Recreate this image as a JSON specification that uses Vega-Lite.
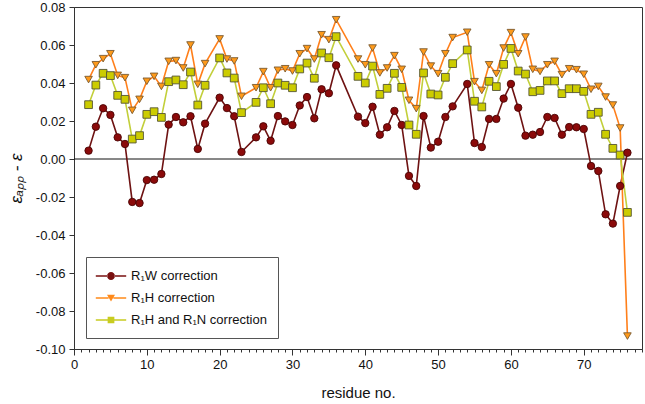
{
  "$schema": "https://vega.github.io/schema/vega-lite/v6.json",
  "width": 568,
  "height": 342,
  "autosize": "none",
  "padding": {"left": 74, "top": 7, "right": 3, "bottom": 55},
  "background": "white",
  "config": {
    "font": "Liberation Sans",
    "view": {"stroke": "#333333", "strokeWidth": 1},
    "axis": {"grid": false, "domainColor": "#333333", "tickColor": "#333333", "labelColor": "#111111", "titleColor": "#111111", "labelFontSize": 13, "titleFontWeight": "normal", "labelOverlap": false, "labelFlush": false, "labelBound": false}
  },
  "data": {
    "values": [
      {"res": 2, "R1W": 0.0044, "R1H": 0.0418, "R1HN": 0.0286},
      {"res": 3, "R1W": 0.0170, "R1H": 0.0496, "R1HN": 0.0389},
      {"res": 4, "R1W": 0.0267, "R1H": 0.0528, "R1HN": 0.0451},
      {"res": 5, "R1W": 0.0232, "R1H": 0.0554, "R1HN": 0.0439},
      {"res": 6, "R1W": 0.0114, "R1H": 0.0440, "R1HN": 0.0335},
      {"res": 7, "R1W": 0.0079, "R1H": 0.0428, "R1HN": 0.0314},
      {"res": 8, "R1W": -0.0226, "R1H": 0.0256, "R1HN": 0.0105},
      {"res": 9, "R1W": -0.0232, "R1H": 0.0314, "R1HN": 0.0123},
      {"res": 10, "R1W": -0.0111, "R1H": 0.0409, "R1HN": 0.0235},
      {"res": 11, "R1W": -0.0109, "R1H": 0.0435, "R1HN": 0.0249},
      {"res": 12, "R1W": -0.0079, "R1H": 0.0382, "R1HN": 0.0219},
      {"res": 13, "R1W": 0.0181, "R1H": 0.0514, "R1HN": 0.0407},
      {"res": 14, "R1W": 0.0221, "R1H": 0.0518, "R1HN": 0.0416},
      {"res": 15, "R1W": 0.0193, "R1H": 0.0479, "R1HN": 0.0391},
      {"res": 16, "R1W": 0.0225, "R1H": 0.0600, "R1HN": 0.0458},
      {"res": 17, "R1W": 0.0053, "R1H": 0.0393, "R1HN": 0.0284},
      {"res": 18, "R1W": 0.0186, "R1H": 0.0502, "R1HN": 0.0388},
      {"res": 20, "R1W": 0.0323, "R1H": 0.0632, "R1HN": 0.0532},
      {"res": 21, "R1W": 0.0268, "R1H": 0.0526, "R1HN": 0.0453},
      {"res": 22, "R1W": 0.0225, "R1H": 0.0516, "R1HN": 0.0426},
      {"res": 23, "R1W": 0.0037, "R1H": 0.0330, "R1HN": 0.0244},
      {"res": 25, "R1W": 0.0114, "R1H": 0.0375, "R1HN": 0.0298},
      {"res": 26, "R1W": 0.0172, "R1H": 0.0460, "R1HN": 0.0375},
      {"res": 27, "R1W": 0.0096, "R1H": 0.0375, "R1HN": 0.0291},
      {"res": 28, "R1W": 0.0226, "R1H": 0.0467, "R1HN": 0.0400},
      {"res": 29, "R1W": 0.0198, "R1H": 0.0475, "R1HN": 0.0388},
      {"res": 30, "R1W": 0.0179, "R1H": 0.0463, "R1HN": 0.0375},
      {"res": 31, "R1W": 0.0282, "R1H": 0.0554, "R1HN": 0.0474},
      {"res": 32, "R1W": 0.0326, "R1H": 0.0581, "R1HN": 0.0505},
      {"res": 33, "R1W": 0.0214, "R1H": 0.0526, "R1HN": 0.0425},
      {"res": 34, "R1W": 0.0367, "R1H": 0.0654, "R1HN": 0.0558},
      {"res": 35, "R1W": 0.0346, "R1H": 0.0628, "R1HN": 0.0533},
      {"res": 36, "R1W": 0.0493, "R1H": 0.0733, "R1HN": 0.0644},
      {"res": 39, "R1W": 0.0223, "R1H": 0.0526, "R1HN": 0.0435},
      {"res": 40, "R1W": 0.0189, "R1H": 0.0496, "R1HN": 0.0400},
      {"res": 41, "R1W": 0.0275, "R1H": 0.0584, "R1HN": 0.0489},
      {"res": 42, "R1W": 0.0128, "R1H": 0.0453, "R1HN": 0.0340},
      {"res": 43, "R1W": 0.0167, "R1H": 0.0479, "R1HN": 0.0372},
      {"res": 44, "R1W": 0.0253, "R1H": 0.0544, "R1HN": 0.0451},
      {"res": 45, "R1W": 0.0179, "R1H": 0.0472, "R1HN": 0.0377},
      {"res": 46, "R1W": -0.0089, "R1H": 0.0309, "R1HN": 0.0179},
      {"res": 47, "R1W": -0.0142, "R1H": 0.0265, "R1HN": 0.0130},
      {"res": 48, "R1W": 0.0226, "R1H": 0.0563, "R1HN": 0.0453},
      {"res": 49, "R1W": 0.0060, "R1H": 0.0489, "R1HN": 0.0342},
      {"res": 50, "R1W": 0.0091, "R1H": 0.0449, "R1HN": 0.0337},
      {"res": 51, "R1W": 0.0221, "R1H": 0.0554, "R1HN": 0.0430},
      {"res": 52, "R1W": 0.0277, "R1H": 0.0639, "R1HN": 0.0502},
      {"res": 54, "R1W": 0.0395, "R1H": 0.0667, "R1HN": 0.0574},
      {"res": 55, "R1W": 0.0084, "R1H": 0.0407, "R1HN": 0.0304},
      {"res": 56, "R1W": 0.0063, "R1H": 0.0361, "R1HN": 0.0274},
      {"res": 57, "R1W": 0.0211, "R1H": 0.0496, "R1HN": 0.0409},
      {"res": 58, "R1W": 0.0211, "R1H": 0.0449, "R1HN": 0.0381},
      {"res": 59, "R1W": 0.0318, "R1H": 0.0584, "R1HN": 0.0498},
      {"res": 60, "R1W": 0.0395, "R1H": 0.0665, "R1HN": 0.0582},
      {"res": 61, "R1W": 0.0270, "R1H": 0.0554, "R1HN": 0.0463},
      {"res": 62, "R1W": 0.0123, "R1H": 0.0642, "R1HN": 0.0447},
      {"res": 63, "R1W": 0.0128, "R1H": 0.0472, "R1HN": 0.0354},
      {"res": 64, "R1W": 0.0142, "R1H": 0.0461, "R1HN": 0.0361},
      {"res": 65, "R1W": 0.0221, "R1H": 0.0496, "R1HN": 0.0411},
      {"res": 66, "R1W": 0.0216, "R1H": 0.0514, "R1HN": 0.0411},
      {"res": 67, "R1W": 0.0128, "R1H": 0.0444, "R1HN": 0.0344},
      {"res": 68, "R1W": 0.0168, "R1H": 0.0475, "R1HN": 0.0370},
      {"res": 69, "R1W": 0.0167, "R1H": 0.0470, "R1HN": 0.0370},
      {"res": 70, "R1W": 0.0158, "R1H": 0.0446, "R1HN": 0.0356},
      {"res": 71, "R1W": -0.0037, "R1H": 0.0367, "R1HN": 0.0235},
      {"res": 72, "R1W": -0.0063, "R1H": 0.0382, "R1HN": 0.0246},
      {"res": 73, "R1W": -0.0291, "R1H": 0.0326, "R1HN": 0.0130},
      {"res": 74, "R1W": -0.0340, "R1H": 0.0284, "R1HN": 0.0056},
      {"res": 75, "R1W": -0.0142, "R1H": 0.0163, "R1HN": 0.0021},
      {"res": 76, "R1W": 0.0033, "R1H": -0.0932, "R1HN": -0.0281}
    ]
  },
  "resolve": {"scale": {"shape": "independent", "fill": "independent"}, "legend": {"shape": "independent", "fill": "independent"}},
  "layer": [
    {
      "data": {"values": [{}]},
      "mark": {"type": "rule", "color": "#111111", "strokeWidth": 1},
      "encoding": {
        "y": {
          "datum": 0, "type": "quantitative",
          "scale": {"domain": [-0.1, 0.08], "nice": false, "zero": false},
          "axis": {
            "values": [-0.1, -0.08, -0.06, -0.04, -0.02, 0, 0.02, 0.04, 0.06, 0.08],
            "labelExpr": "datum.value < -0.0001 ? '-' + format(-datum.value, '.2f') : format(datum.value, '.2f')",
            "tickSize": 5,
            "labelPadding": 4,
            "title": "εₐₚₚ - ε",
            "titleFontSize": 17,
            "titleFontStyle": "italic",
            "titlePadding": 10
          }
        }
      }
    },
    {
      "transform": [{"fold": ["R1W", "R1H", "R1HN"], "as": ["series", "value"]}],
      "mark": {"type": "line", "strokeWidth": 1.6},
      "encoding": {
        "x": {
          "field": "res", "type": "quantitative",
          "scale": {"domain": [0, 78], "nice": false, "zero": false},
          "axis": {
            "values": [0,1,2,3,4,5,6,7,8,9,10,11,12,13,14,15,16,17,18,19,20,21,22,23,24,25,26,27,28,29,30,31,32,33,34,35,36,37,38,39,40,41,42,43,44,45,46,47,48,49,50,51,52,53,54,55,56,57,58,59,60,61,62,63,64,65,66,67,68,69,70,71,72,73,74,75,76,77,78],
            "labelExpr": "datum.value % 10 === 0 ? datum.label : ''",
            "format": "d",
            "tickSize": {"condition": {"test": "datum.value % 10 === 0", "value": 6}, "value": 3},
            "labelPadding": 3,
            "title": "residue no.",
            "titleFontSize": 15,
            "titlePadding": 14
          }
        },
        "y": {
          "field": "value", "type": "quantitative",
          "scale": {"domain": [-0.1, 0.08], "nice": false, "zero": false},
          "axis": {
            "values": [-0.1, -0.08, -0.06, -0.04, -0.02, 0, 0.02, 0.04, 0.06, 0.08],
            "labelExpr": "datum.value < -0.0001 ? '-' + format(-datum.value, '.2f') : format(datum.value, '.2f')",
            "tickSize": 5,
            "labelPadding": 4,
            "title": "εₐₚₚ - ε",
            "titleFontSize": 17,
            "titleFontStyle": "italic",
            "titlePadding": 10
          }
        },
        "color": {
          "field": "series", "type": "nominal",
          "scale": {"domain": ["R1W", "R1H", "R1HN"], "range": ["#6e1212", "#ff7f1a", "#c2cf3a"]},
          "legend": null
        }
      }
    },
    {
      "transform": [{"fold": ["R1W", "R1H", "R1HN"], "as": ["series", "value"]}],
      "mark": {"type": "point", "filled": true, "opacity": 1, "strokeWidth": 0.9},
      "encoding": {
        "x": {
          "field": "res", "type": "quantitative",
          "scale": {"domain": [0, 78], "nice": false, "zero": false},
          "axis": {
            "values": [0,1,2,3,4,5,6,7,8,9,10,11,12,13,14,15,16,17,18,19,20,21,22,23,24,25,26,27,28,29,30,31,32,33,34,35,36,37,38,39,40,41,42,43,44,45,46,47,48,49,50,51,52,53,54,55,56,57,58,59,60,61,62,63,64,65,66,67,68,69,70,71,72,73,74,75,76,77,78],
            "labelExpr": "datum.value % 10 === 0 ? datum.label : ''",
            "format": "d",
            "tickSize": {"condition": {"test": "datum.value % 10 === 0", "value": 6}, "value": 3},
            "labelPadding": 3,
            "title": "residue no.",
            "titleFontSize": 15,
            "titlePadding": 14
          }
        },
        "y": {
          "field": "value", "type": "quantitative",
          "scale": {"domain": [-0.1, 0.08], "nice": false, "zero": false},
          "axis": {
            "values": [-0.1, -0.08, -0.06, -0.04, -0.02, 0, 0.02, 0.04, 0.06, 0.08],
            "labelExpr": "datum.value < -0.0001 ? '-' + format(-datum.value, '.2f') : format(datum.value, '.2f')",
            "tickSize": 5,
            "labelPadding": 4,
            "title": "εₐₚₚ - ε",
            "titleFontSize": 17,
            "titleFontStyle": "italic",
            "titlePadding": 10
          }
        },
        "fill": {
          "field": "series", "type": "nominal",
          "scale": {"domain": ["R1W", "R1H", "R1HN"], "range": ["#8b0a0a", "#ff9a1a", "#cccc00"]},
          "legend": null
        },
        "stroke": {
          "field": "series", "type": "nominal",
          "scale": {"domain": ["R1W", "R1H", "R1HN"], "range": ["#4a0505", "#7a5a30", "#555533"]},
          "legend": null
        },
        "shape": {
          "field": "series", "type": "nominal",
          "scale": {"domain": ["R1W", "R1H", "R1HN"], "range": ["circle", "triangle-down", "square"]},
          "legend": null
        },
        "size": {
          "field": "series", "type": "nominal",
          "scale": {"domain": ["R1W", "R1H", "R1HN"], "range": [55, 60, 45]},
          "legend": null
        }
      }
    },
    {
      "transform": [{"fold": ["R1W", "R1H", "R1HN"], "as": ["series", "value"]}, {"filter": "false"}],
      "mark": {"type": "point", "filled": true, "opacity": 1, "size": 256, "strokeWidth": 0},
      "encoding": {
        "shape": {
          "field": "series", "type": "nominal",
          "scale": {"domain": ["R1W", "R1H", "R1HN"], "range": [
            "M-1.9,-0.09H-0.45V0.09H-1.9ZM0.45,-0.09H1.9V0.09H0.45ZM-0.5,0A0.5,0.5,0,1,0,0.5,0A0.5,0.5,0,1,0,-0.5,0Z",
            "M-1.9,-0.09H-0.3V0.09H-1.9ZM0.3,-0.09H1.9V0.09H0.3ZM-0.5,-0.4L0.5,-0.4L0,0.45Z",
            "M-1.9,-0.09H-0.42V0.09H-1.9ZM0.42,-0.09H1.9V0.09H0.42ZM-0.42,-0.42H0.42V0.42H-0.42Z"
          ]},
          "legend": {
            "orient": "none",
            "legendX": 12,
            "legendY": 250,
            "title": null,
            "strokeColor": "#555555",
            "fillColor": "white",
            "padding": 11,
            "symbolSize": 256,
            "symbolOffset": 6,
            "labelOffset": 12,
            "rowPadding": 7,
            "labelFontSize": 13,
            "labelColor": "#111111",
            "symbolStrokeWidth": 0,
            "labelExpr": "datum.value === 'R1W' ? 'R₁W correction' : datum.value === 'R1H' ? 'R₁H correction' : 'R₁H and R₁N correction'"
          }
        },
        "fill": {
          "field": "series", "type": "nominal",
          "scale": {"domain": ["R1W", "R1H", "R1HN"], "range": ["#7a1010", "#ff8a1a", "#c8cc20"]},
          "legend": {
            "orient": "none",
            "legendX": 12,
            "legendY": 250,
            "title": null,
            "strokeColor": "#555555",
            "fillColor": "white",
            "padding": 11,
            "symbolSize": 256,
            "symbolOffset": 6,
            "labelOffset": 12,
            "rowPadding": 7,
            "labelFontSize": 13,
            "labelColor": "#111111",
            "symbolStrokeWidth": 0,
            "labelExpr": "datum.value === 'R1W' ? 'R₁W correction' : datum.value === 'R1H' ? 'R₁H correction' : 'R₁H and R₁N correction'"
          }
        }
      }
    }
  ]
}
